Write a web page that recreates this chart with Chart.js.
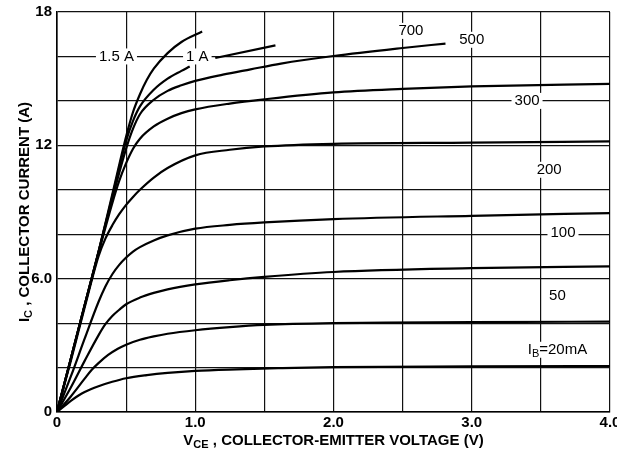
<!DOCTYPE html>
<html>
<head>
<meta charset="utf-8">
<script src="https://cdn.jsdelivr.net/npm/chart.js@4.4.1/dist/chart.umd.min.js"></script>
<style>
  html, body { margin: 0; padding: 0; background: #fff; }
  #wrap { width: 617px; height: 454px; }
</style>
</head>
<body>
<div id="wrap"><canvas id="ivChart" width="617" height="454"></canvas></div>
<script>
// collector characteristics, one pair of arrays per base current
const v20 = [0, 0.05, 0.1, 0.15, 0.2, 0.3, 0.4, 0.5, 0.65, 0.8, 1.0, 1.3, 1.6, 2.0, 3.0, 4.0];
const i20 = [0, 0.25, 0.5, 0.72, 0.9, 1.16, 1.36, 1.52, 1.66, 1.76, 1.85, 1.92, 1.97, 2.02, 2.05, 2.07];

const v50 = [0, 0.1, 0.2, 0.25, 0.3, 0.37, 0.44, 0.5, 0.6, 0.7, 0.8, 1.0, 1.25, 1.5, 2.0, 3.0, 4.0];
const i50 = [0, 0.7, 1.5, 1.89, 2.2, 2.57, 2.85, 3.03, 3.25, 3.4, 3.52, 3.68, 3.82, 3.92, 4.0, 4.04, 4.07];

const v100 = [0, 0.1, 0.2, 0.3, 0.35, 0.4, 0.45, 0.5, 0.6, 0.7, 0.8, 1.0, 1.25, 1.5, 2.0, 3.0, 4.0];
const i100 = [0, 1.1, 2.3, 3.45, 3.95, 4.32, 4.6, 4.85, 5.15, 5.36, 5.52, 5.74, 5.93, 6.08, 6.3, 6.47, 6.55];

const v200 = [0, 0.1, 0.2, 0.3, 0.35, 0.4, 0.45, 0.5, 0.55, 0.6, 0.7, 0.8, 1.0, 1.25, 1.5, 2.0, 3.0, 4.0];
const i200 = [0, 1.6, 3.3, 4.95, 5.65, 6.2, 6.62, 6.95, 7.22, 7.42, 7.72, 7.95, 8.25, 8.42, 8.53, 8.68, 8.83, 8.95];

const v300 = [0, 0.1, 0.2, 0.3, 0.35, 0.4, 0.45, 0.5, 0.55, 0.6, 0.7, 0.8, 1.0, 1.25, 1.5, 2.0, 3.0, 4.0];
const i300 = [0, 2.3, 4.7, 7.0, 7.8, 8.4, 8.9, 9.32, 9.68, 10.0, 10.55, 10.98, 11.55, 11.8, 11.95, 12.07, 12.12, 12.18];

const v500 = [0, 0.1, 0.2, 0.3, 0.4, 0.45, 0.5, 0.55, 0.6, 0.7, 0.8, 0.9, 1.0, 1.25, 1.5, 2.0, 2.5, 3.0, 4.0];
const i500 = [0, 2.4, 4.8, 7.15, 9.4, 10.4, 11.2, 11.85, 12.3, 12.85, 13.2, 13.45, 13.62, 13.88, 14.07, 14.38, 14.54, 14.65, 14.77];

const v700 = [0, 0.1, 0.2, 0.3, 0.4, 0.5, 0.55, 0.6, 0.7, 0.8, 0.9, 1.0, 1.2, 1.4, 1.62, 2.0, 2.5, 2.81];
const i700 = [0, 2.4, 4.8, 7.2, 9.6, 11.85, 12.75, 13.4, 14.05, 14.45, 14.7, 14.9, 15.18, 15.42, 15.68, 16.02, 16.38, 16.58];

// the 1 A curve is broken where its label sits
const v1A = [0, 0.1, 0.2, 0.3, 0.4, 0.5, 0.55, 0.6, 0.7, 0.8, 0.9, 0.96, 1.05, 1.145, 1.58];
const i1A = [0, 2.4, 4.8, 7.2, 9.7, 12.2, 13.1, 13.75, 14.5, 15.0, 15.35, 15.55, null, 15.93, 16.5];

const v15A = [0, 0.1, 0.2, 0.3, 0.4, 0.5, 0.55, 0.6, 0.65, 0.7, 0.8, 0.9, 1.05];
const i15A = [0, 2.4, 4.8, 7.2, 9.8, 12.4, 13.5, 14.3, 14.95, 15.45, 16.15, 16.65, 17.12];

// tick labels
const xTickLabels = { 0: '0', 1: '1.0', 2: '2.0', 3: '3.0', 4: '4.0' };
const yTickLabels = { 0: '0', 6: '6.0', 12: '12', 18: '18' };

// curve annotations (text, anchor in data units)
const labelText = ['1.5 A', '1 A', '700', '500', '300', '200', '100', '50', 'I_B=20mA'];
const labelV = [0.43, 1.015, 2.56, 3.0, 3.4, 3.56, 3.66, 3.62, 3.62];
const labelI = [16.0, 16.0, 17.15, 16.75, 14.0, 10.9, 8.06, 5.23, 2.8];

const FONT = '"Liberation Sans", Arial, Helvetica, sans-serif';

const series = [[v20, i20], [v50, i50], [v100, i100], [v200, i200], [v300, i300],
  [v500, i500], [v700, i700], [v1A, i1A], [v15A, i15A]];

const datasets = series.map(([vs, is]) => ({
  data: vs.map((v, k) => ({ x: v, y: is[k] })),
  borderColor: '#000',
  borderWidth: 2.2,
  pointRadius: 0,
  fill: false,
  spanGaps: false,
  cubicInterpolationMode: 'monotone'
}));

// "I_B" -> [['I',false],['B',true]]
function splitSub(txt) {
  const m = txt.match(/^([^_]*)_([A-Z]+)(.*)$/);
  if (!m) return [[txt, false]];
  return [[m[1], false], [m[2], true], [m[3], false]];
}

function drawRich(ctx, parts, cx, cy, font, subFont, subShift, bg) {
  let w = 0;
  parts.forEach(([t, sub]) => { ctx.font = sub ? subFont : font; w += ctx.measureText(t).width; });
  let x = cx - w / 2;
  if (bg) {
    ctx.fillStyle = '#fff';
    ctx.fillRect(x - 3, cy - 8, w + 6, 16);
  }
  ctx.fillStyle = '#000';
  ctx.textAlign = 'left';
  ctx.textBaseline = 'middle';
  parts.forEach(([t, sub]) => {
    ctx.font = sub ? subFont : font;
    ctx.fillText(t, x, sub ? cy + subShift : cy);
    x += ctx.measureText(t).width;
  });
}

const textPlugin = {
  id: 'textPlugin',
  afterDatasetsDraw(chart) {
    const ctx = chart.ctx;
    const xs = chart.scales.x;
    const ys = chart.scales.y;
    ctx.save();
    labelText.forEach((txt, k) => {
      drawRich(ctx, splitSub(txt), xs.getPixelForValue(labelV[k]), ys.getPixelForValue(labelI[k]),
        '15px ' + FONT, '11px ' + FONT, 4, true);
    });
    // axis titles
    const bold = 'bold 15px ' + FONT;
    const boldSub = 'bold 11px ' + FONT;
    const area = chart.chartArea;
    drawRich(ctx, splitSub('V_CE , COLLECTOR-EMITTER VOLTAGE (V)'), (area.left + area.right) / 2, 441,
      bold, boldSub, 4, false);
    ctx.translate(25, (area.top + area.bottom) / 2);
    ctx.rotate(-Math.PI / 2);
    drawRich(ctx, splitSub('I_C , COLLECTOR CURRENT (A)'), 0, 0, bold, boldSub, 4, false);
    ctx.restore();
  }
};

new Chart(document.getElementById('ivChart'), {
  type: 'line',
  data: { datasets },
  options: {
    responsive: false,
    animation: false,
    layout: { padding: { left: 0, right: 7, top: 12, bottom: 0 } },
    plugins: { legend: { display: false }, tooltip: { enabled: false } },
    scales: {
      x: {
        type: 'linear',
        min: 0,
        max: 4,
        afterFit(scale) {
          scale.height = 42;
          scale.paddingLeft = 0;
          scale.paddingRight = 0;
        },
        ticks: {
          stepSize: 0.5,
          autoSkip: false,
          maxRotation: 0,
          padding: 2,
          color: '#000',
          font: { family: FONT, size: 15, weight: 'bold' },
          callback: (v) => (v in xTickLabels ? xTickLabels[v] : '')
        },
        grid: { color: '#111', lineWidth: 1.2, drawTicks: false },
        border: { color: '#000', width: 1.6 }
      },
      y: {
        type: 'linear',
        min: 0,
        max: 18,
        afterFit(scale) {
          scale.width = 57;
          scale.paddingTop = 0;
          scale.paddingBottom = 0;
        },
        ticks: {
          stepSize: 2,
          autoSkip: false,
          padding: 5,
          color: '#000',
          font: { family: FONT, size: 15, weight: 'bold' },
          callback: (v) => (v in yTickLabels ? yTickLabels[v] : '')
        },
        grid: { color: '#111', lineWidth: 1.2, drawTicks: false },
        border: { color: '#000', width: 1.6 }
      }
    }
  },
  plugins: [textPlugin]
});
</script>
</body>
</html>
